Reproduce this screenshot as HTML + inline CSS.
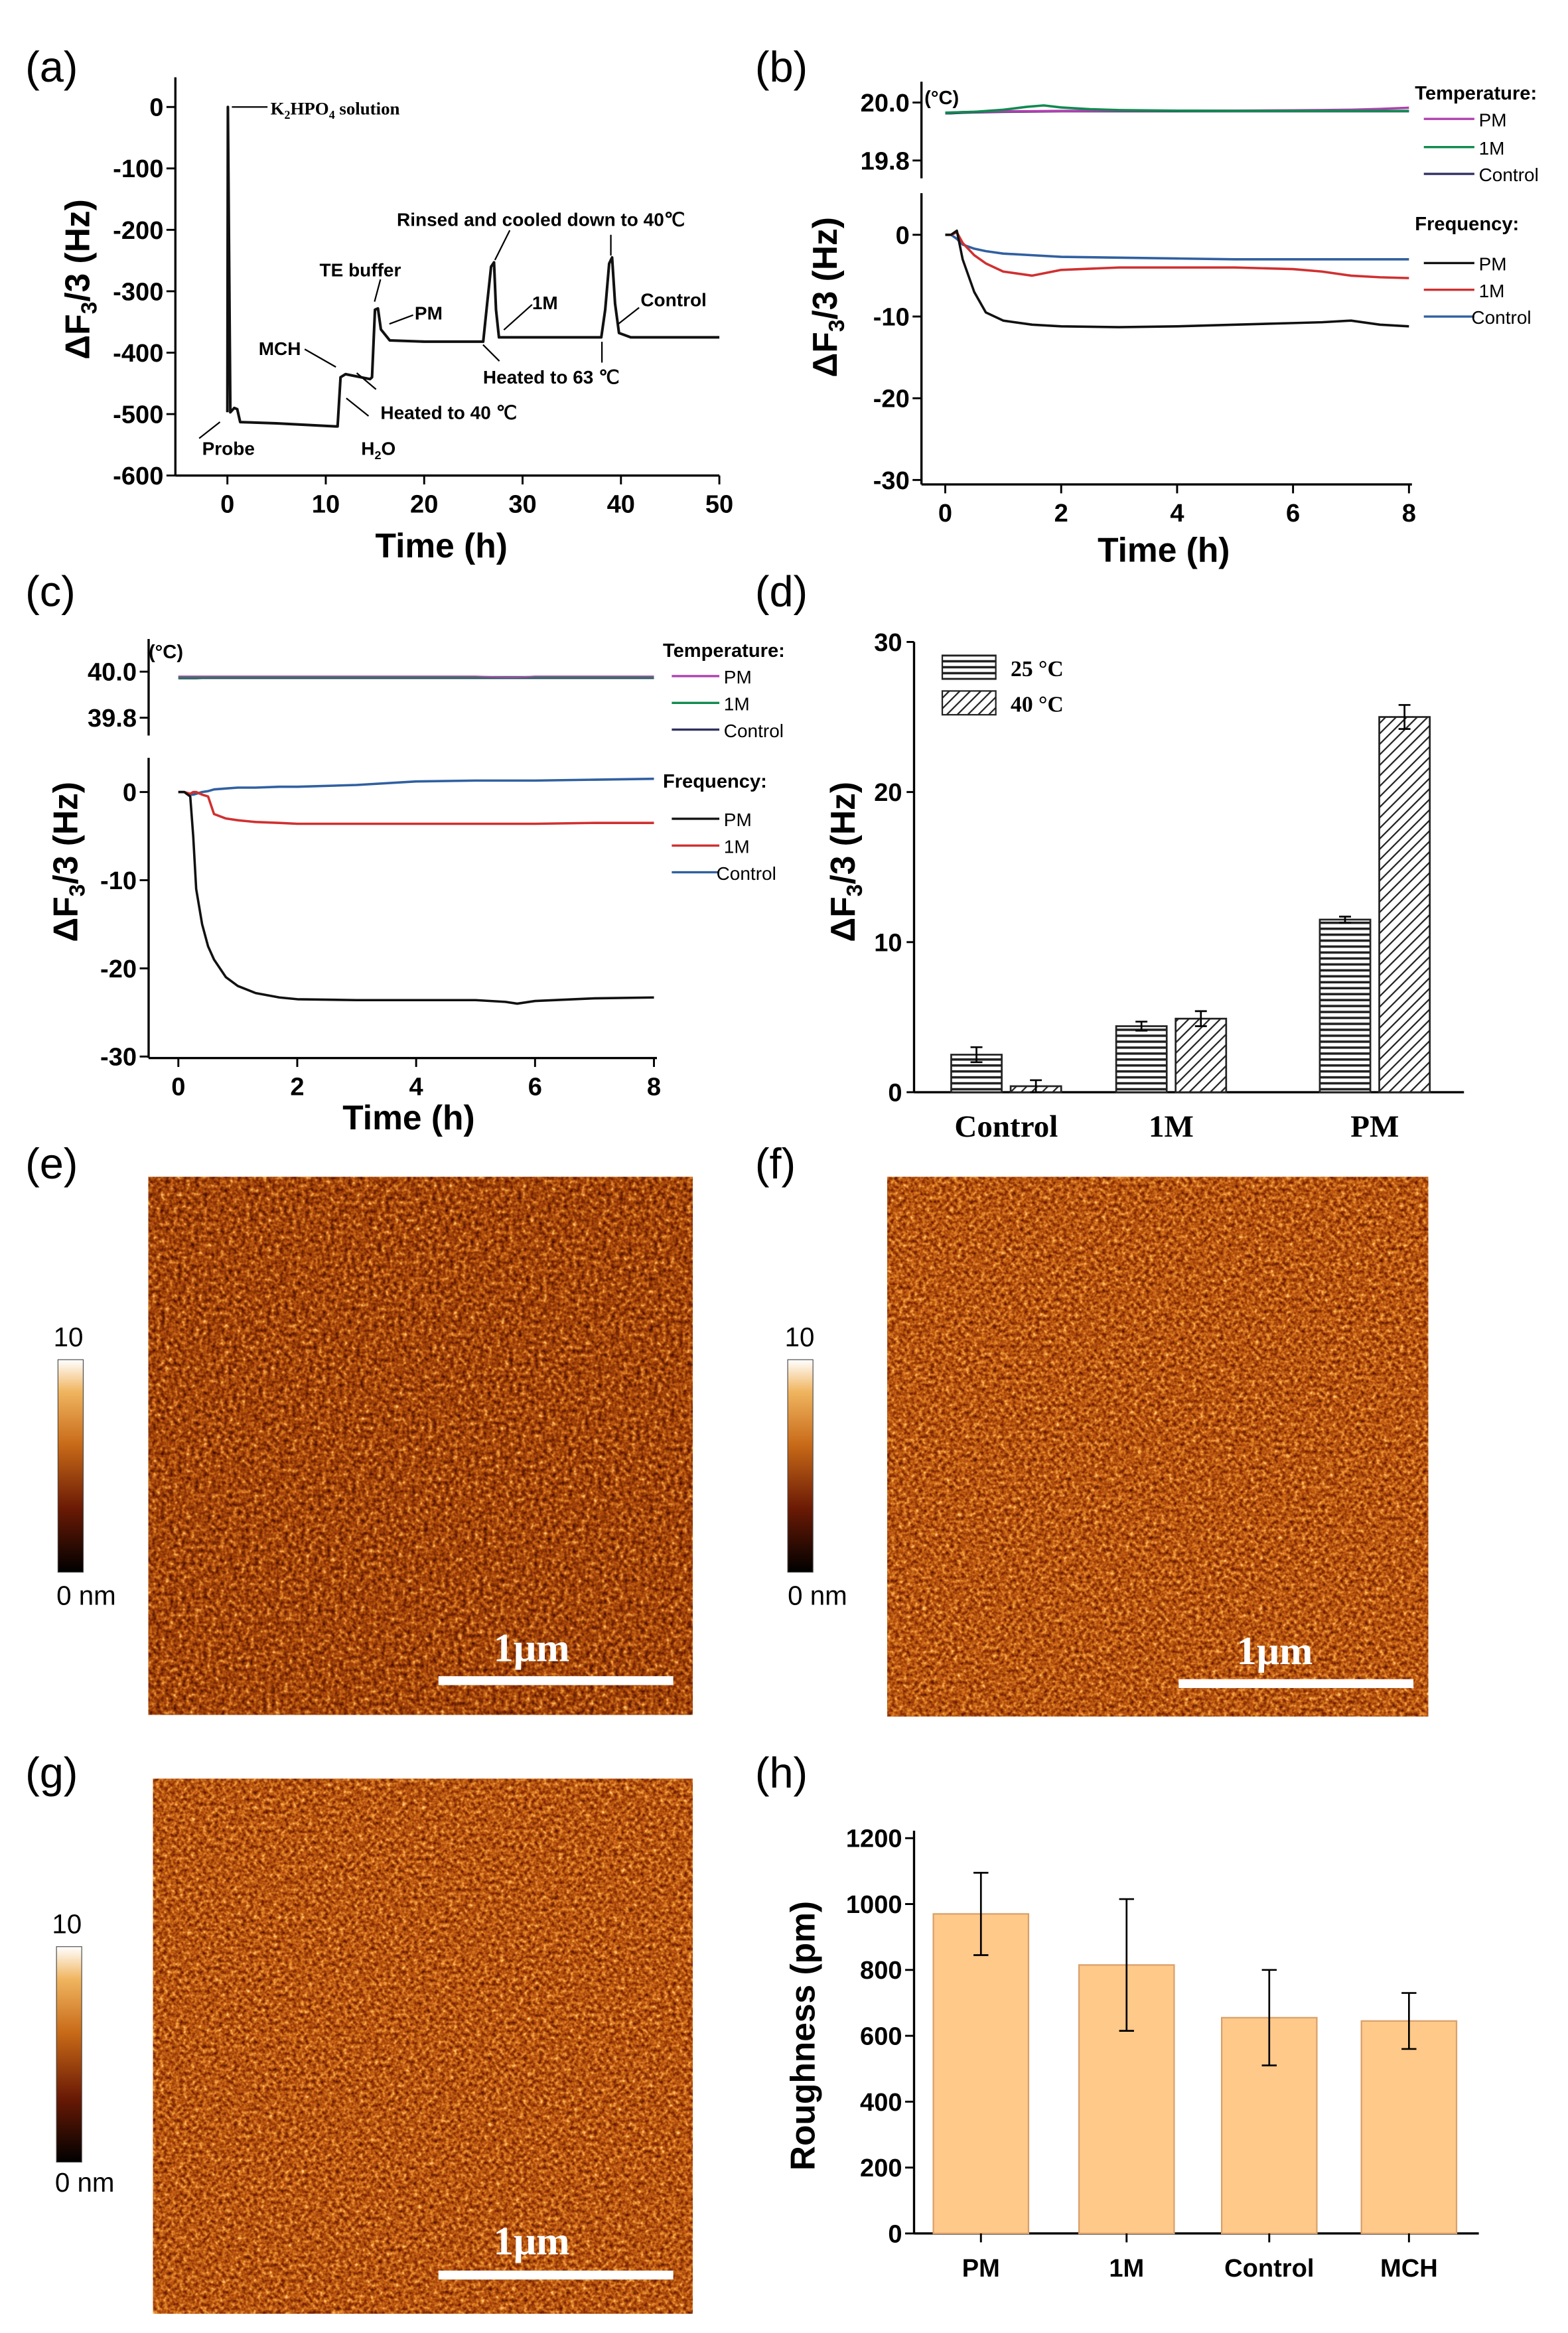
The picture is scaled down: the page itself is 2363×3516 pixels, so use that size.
<!DOCTYPE html>
<html><head><meta charset="utf-8">
<style>
html,body{margin:0;padding:0;background:#fff;}
svg{display:block;}
text{font-family:"Liberation Sans",sans-serif;}
.tk{font-size:17px;font-weight:bold;}
.ttl{font-size:23px;font-weight:bold;}
.pl{font-size:29px;}
.ann{font-size:12.5px;font-weight:bold;}
.lg{font-size:12.5px;}
.lgb{font-size:13px;font-weight:bold;}
.serif{font-family:"Liberation Serif",serif;font-weight:bold;}
</style></head>
<body>
<svg id="fig" xmlns="http://www.w3.org/2000/svg" width="2363" height="3516" viewBox="0 0 1055 1570" preserveAspectRatio="none">
<defs>
<pattern id="hatchH" width="6" height="4" patternUnits="userSpaceOnUse"><rect width="6" height="4" fill="#fff"/><line x1="0" y1="1" x2="6" y2="1" stroke="#222" stroke-width="1.6"/></pattern>
<pattern id="hatchD" width="5" height="5" patternUnits="userSpaceOnUse" patternTransform="rotate(45)"><rect width="5" height="5" fill="#fff"/><line x1="0" y1="0" x2="0" y2="5" stroke="#222" stroke-width="2"/></pattern>
<linearGradient id="cbar" x1="0" y1="1" x2="0" y2="0">
<stop offset="0" stop-color="#000"/><stop offset="0.3" stop-color="#6b1a05"/><stop offset="0.6" stop-color="#c86a18"/><stop offset="0.85" stop-color="#f0b560"/><stop offset="1" stop-color="#fff"/></linearGradient>
<filter id="afm1" x="0" y="0" width="1" height="1" color-interpolation-filters="sRGB">
<feTurbulence type="fractalNoise" baseFrequency="0.35" numOctaves="2" seed="3"/>
<feColorMatrix type="matrix" values="1 0 0 0 0 1 0 0 0 0 1 0 0 0 0 0 0 0 0 1"/>
<feComponentTransfer><feFuncR type="table" tableValues="0.15 0.3 0.48 0.64 0.8 0.97 1"/><feFuncG type="table" tableValues="0.02 0.07 0.16 0.27 0.42 0.7 0.95"/><feFuncB type="table" tableValues="0 0 0.01 0.04 0.1 0.35 0.8"/></feComponentTransfer>
</filter>
<filter id="afm2" x="0" y="0" width="1" height="1" color-interpolation-filters="sRGB">
<feTurbulence type="fractalNoise" baseFrequency="0.38" numOctaves="2" seed="7"/>
<feColorMatrix type="matrix" values="1 0 0 0 0 1 0 0 0 0 1 0 0 0 0 0 0 0 0 1"/>
<feComponentTransfer><feFuncR type="table" tableValues="0.2 0.36 0.55 0.72 0.87 1 1"/><feFuncG type="table" tableValues="0.04 0.1 0.2 0.33 0.5 0.75 0.95"/><feFuncB type="table" tableValues="0 0 0.02 0.06 0.15 0.4 0.8"/></feComponentTransfer>
</filter>
</defs>

<!-- panel labels -->
<text class="pl" x="17" y="55">(a)</text>
<text class="pl" x="508" y="55">(b)</text>
<text class="pl" x="17" y="408">(c)</text>
<text class="pl" x="508" y="408">(d)</text>
<text class="pl" x="17" y="793">(e)</text>
<text class="pl" x="508" y="793">(f)</text>
<text class="pl" x="17" y="1203">(g)</text>
<text class="pl" x="508" y="1203">(h)</text>

<g id="pa"></g>
<g id="pb"></g>
<g id="pc"></g>
<g id="pd"></g>
<g id="ph"></g>

<!-- panel a annotations -->
<g stroke="#000" stroke-width="1" fill="none">
<line x1="156" y1="72" x2="180" y2="72"/>
<line x1="134" y1="295" x2="148" y2="284"/>
<line x1="233" y1="268" x2="248" y2="280"/>
<line x1="205" y1="235" x2="226" y2="247"/>
<line x1="253" y1="262" x2="240" y2="251"/>
<line x1="256" y1="188" x2="252" y2="203"/>
<line x1="278" y1="212" x2="262" y2="218"/>
<line x1="343" y1="155" x2="333" y2="175"/>
<line x1="358" y1="205" x2="339" y2="222"/>
<line x1="336" y1="243" x2="325" y2="232"/>
<line x1="411" y1="158" x2="411" y2="172"/>
<line x1="405" y1="244" x2="405" y2="230"/>
<line x1="430" y1="207" x2="416" y2="218"/>
</g>
<g>
<text class="serif" x="182" y="77" font-size="12">K<tspan font-size="8" dy="3">2</tspan><tspan dy="-3">HPO</tspan><tspan font-size="8" dy="3">4</tspan><tspan dy="-3"> solution</tspan></text>
<text class="ann" x="136" y="306">Probe</text>
<text class="ann" x="243" y="306">H<tspan font-size="8" dy="3">2</tspan><tspan dy="-3">O</tspan></text>
<text class="ann" x="174" y="239">MCH</text>
<text class="ann" x="256" y="282">Heated to 40 ℃</text>
<text class="ann" x="215" y="186">TE buffer</text>
<text class="ann" x="279" y="215">PM</text>
<text class="ann" x="267" y="152">Rinsed and cooled down to 40℃</text>
<text class="ann" x="358" y="208">1M</text>
<text class="ann" x="325" y="258">Heated to 63 ℃</text>
<text class="ann" x="431" y="206">Control</text>
</g>

<!-- panel b legend -->
<g>
<text class="lgb" x="952" y="67">Temperature:</text>
<line x1="958" y1="80" x2="992" y2="80" stroke="#b040b0" stroke-width="1.5"/><text class="lg" x="995" y="85">PM</text>
<line x1="958" y1="99" x2="992" y2="99" stroke="#108a50" stroke-width="1.5"/><text class="lg" x="995" y="104">1M</text>
<line x1="958" y1="117" x2="992" y2="117" stroke="#303060" stroke-width="1.5"/><text class="lg" x="995" y="122">Control</text>
<text class="lgb" x="952" y="155">Frequency:</text>
<line x1="958" y1="177" x2="992" y2="177" stroke="#111" stroke-width="1.5"/><text class="lg" x="995" y="182">PM</text>
<line x1="958" y1="195" x2="992" y2="195" stroke="#d03030" stroke-width="1.5"/><text class="lg" x="995" y="200">1M</text>
<line x1="958" y1="213" x2="992" y2="213" stroke="#3060a0" stroke-width="1.5"/><text class="lg" x="990" y="218">Control</text>
</g>
<text class="lgb" x="622" y="70">(°C)</text>

<!-- panel c legend -->
<g>
<text class="lgb" x="446" y="442">Temperature:</text>
<line x1="452" y1="455" x2="484" y2="455" stroke="#b040b0" stroke-width="1.5"/><text class="lg" x="487" y="460">PM</text>
<line x1="452" y1="473" x2="484" y2="473" stroke="#108a50" stroke-width="1.5"/><text class="lg" x="487" y="478">1M</text>
<line x1="452" y1="491" x2="484" y2="491" stroke="#303060" stroke-width="1.5"/><text class="lg" x="487" y="496">Control</text>
<text class="lgb" x="446" y="530">Frequency:</text>
<line x1="452" y1="551" x2="484" y2="551" stroke="#111" stroke-width="1.5"/><text class="lg" x="487" y="556">PM</text>
<line x1="452" y1="569" x2="484" y2="569" stroke="#d03030" stroke-width="1.5"/><text class="lg" x="487" y="574">1M</text>
<line x1="452" y1="587" x2="484" y2="587" stroke="#3060a0" stroke-width="1.5"/><text class="lg" x="482" y="592">Control</text>
</g>
<text class="lgb" x="100" y="443">(°C)</text>

<!-- panel d legend -->
<g>
<rect x="634" y="441" width="36" height="16" fill="url(#hatchH)" stroke="#222"/>
<text class="serif" x="680" y="455" font-size="15">25 °C</text>
<rect x="634" y="465" width="36" height="16" fill="url(#hatchD)" stroke="#222"/>
<text class="serif" x="680" y="479" font-size="15">40 °C</text>
</g>

<!-- AFM images -->
<g>
<rect x="100" y="792" width="366" height="362" fill="#a0400f"/>
<rect x="100" y="792" width="366" height="362" filter="url(#afm1)"/>
<rect x="295" y="1128" width="158" height="6" fill="#fff"/>
<text class="serif" x="332" y="1118" font-size="27" fill="#fff">1μm</text>
</g>
<g>
<rect x="597" y="792" width="364" height="363" fill="#b5541a"/>
<rect x="597" y="792" width="364" height="363" filter="url(#afm2)"/>
<rect x="793" y="1130" width="158" height="6" fill="#fff"/>
<text class="serif" x="832" y="1120" font-size="27" fill="#fff">1μm</text>
</g>
<g>
<rect x="103" y="1197" width="363" height="360" fill="#b8571c"/>
<rect x="103" y="1197" width="363" height="360" filter="url(#afm2)"/>
<rect x="295" y="1528" width="158" height="6" fill="#fff"/>
<text class="serif" x="332" y="1517" font-size="27" fill="#fff">1μm</text>
</g>
<!-- colorbars -->
<g>
<rect x="39" y="915" width="17" height="143" fill="url(#cbar)" stroke="#444" stroke-width="0.5"/>
<text x="36" y="906" font-size="18">10</text><text x="38" y="1080" font-size="18">0 nm</text>
</g>
<g>
<rect x="530" y="915" width="17" height="143" fill="url(#cbar)" stroke="#444" stroke-width="0.5"/>
<text x="528" y="906" font-size="18">10</text><text x="530" y="1080" font-size="18">0 nm</text>
</g>
<g>
<rect x="38" y="1310" width="17" height="145" fill="url(#cbar)" stroke="#444" stroke-width="0.5"/>
<text x="35" y="1301" font-size="18">10</text><text x="37" y="1475" font-size="18">0 nm</text>
</g>
</svg>
<script>
const NS='http://www.w3.org/2000/svg';
// ---------- data ----------
// panel a
const aTime=[0,0,0.05,0.3,0.7,1,1.3,5,11,11.2,11.5,12,14.5,14.7,15,15.3,15.6,16.5,20,26,26.4,26.8,27.1,27.3,27.6,30,38,38.4,38.8,39.1,39.4,39.8,41,50];
const aFreq=[-497,-497,0,-497,-490,-492,-513,-515,-520,-520,-440,-435,-443,-440,-330,-328,-362,-380,-382,-382,-320,-260,-253,-330,-375,-375,-375,-330,-255,-245,-320,-368,-375,-375];
const aXTicks=[0,10,20,30,40,50];
const aYTicks=[0,-100,-200,-300,-400,-500,-600];
// panel b
const bTime=[0,0.1,0.2,0.3,0.5,0.7,1,1.5,2,3,4,5,6,6.5,7,7.5,8];
const bTempPM=[19.965,19.965,19.966,19.967,19.968,19.969,19.97,19.97,19.971,19.972,19.972,19.972,19.973,19.974,19.975,19.978,19.982];
const bTime1M=[0,0.5,1,1.4,1.7,2,2.5,3,4,5,6,7,8];
const bTemp1M=[19.965,19.968,19.975,19.985,19.99,19.983,19.977,19.974,19.972,19.971,19.971,19.971,19.971];
const bTempCtl=[19.963,19.963,19.964,19.965,19.966,19.967,19.968,19.969,19.97,19.97,19.97,19.97,19.97,19.97,19.97,19.97,19.97];
const bFreqPM=[0,0,0.5,-3,-7,-9.5,-10.5,-11,-11.2,-11.3,-11.2,-11,-10.8,-10.7,-10.5,-11,-11.2];
const bFreqM1=[0,0,0.3,-1,-2.5,-3.5,-4.5,-5,-4.3,-4,-4,-4,-4.2,-4.5,-5,-5.2,-5.3];
const bFreqCtl=[0,0,-0.5,-1.2,-1.7,-2,-2.3,-2.5,-2.7,-2.8,-2.9,-3,-3,-3,-3,-3,-3];
const bXTicks=[0,2,4,6,8];
const bFreqTicks=[0,-10,-20,-30];
const bTempTicks=[20.0,19.8];
// panel c
const cTime=[0,0.1,0.2,0.25,0.3,0.4,0.5,0.6,0.8,1,1.3,1.7,2,3,4,5,5.5,5.7,6,7,8];
const cFreqPM=[0,0,-0.5,-5,-11,-15,-17.5,-19,-21,-22,-22.8,-23.3,-23.5,-23.6,-23.6,-23.6,-23.8,-24,-23.7,-23.4,-23.3];
const cFreqM1=[0,0,-0.2,0,0,-0.3,-0.5,-2.5,-3,-3.2,-3.4,-3.5,-3.6,-3.6,-3.6,-3.6,-3.6,-3.6,-3.6,-3.5,-3.5];
const cFreqCtl=[0,0,-0.3,-0.3,-0.2,0,0.1,0.3,0.4,0.5,0.5,0.6,0.6,0.8,1.2,1.3,1.3,1.3,1.3,1.4,1.5];
const cTempPM=[39.98,39.98,39.98,39.98,39.98,39.98,39.98,39.98,39.98,39.98,39.98,39.98,39.98,39.98,39.98,39.98,39.975,39.975,39.98,39.98,39.98];
const cTempM1=[39.975,39.975,39.975,39.975,39.975,39.976,39.976,39.976,39.976,39.976,39.976,39.976,39.976,39.976,39.976,39.976,39.976,39.976,39.976,39.976,39.976];
const cTempCtl=[39.972,39.972,39.972,39.972,39.972,39.973,39.973,39.973,39.973,39.973,39.973,39.973,39.973,39.973,39.973,39.973,39.973,39.973,39.973,39.973,39.973];
const cXTicks=[0,2,4,6,8];
const cFreqTicks=[0,-10,-20,-30];
const cTempTicks=[40.0,39.8];
// panel d
const dCats=['Control','1M','PM'];
const d25=[2.5,4.4,11.5];
const d25Err=[0.5,0.3,0.2];
const d40=[0.4,4.9,25];
const d40Err=[0.4,0.5,0.8];
const dYTicks=[0,10,20,30];
// panel h
const hCats=['PM','1M','Control','MCH'];
const hVals=[970,815,655,645];
const hErr=[125,200,145,85];
const hYTicks=[0,200,400,600,800,1000,1200];

// ---------- helpers ----------
function mk(tag,attrs,parent){const e=document.createElementNS(NS,tag);for(const k in attrs)e.setAttribute(k,attrs[k]);parent.appendChild(e);return e;}
function lin(d0,d1,p0,p1){return v=>p0+(v-d0)*(p1-p0)/(d1-d0);}
function pathOf(xs,ys,sx,sy){return xs.map((t,i)=>(i?'L':'M')+sx(t).toFixed(2)+' '+sy(ys[i]).toFixed(2)).join(' ');}
function series(g,xs,ys,sx,sy,color,name,w){
  const p=mk('path',{d:pathOf(xs,ys,sx,sy),fill:'none',stroke:color,'stroke-width':w||1.6,'stroke-linejoin':'round'},g);
  
  
}
function xTicks(g,ticks,sx,y,len,name){
  ticks.forEach(t=>{
    mk('line',{x1:sx(t),x2:sx(t),y1:y,y2:y+len,stroke:'#000','stroke-width':1.3},g);
    const tx=mk('text',{x:sx(t),y:y+25,'text-anchor':'middle',class:'tk'},g);
    tx.textContent=t;
    
    
  });
}
function yTicks(g,ticks,sy,x,len,name,fmt){
  ticks.forEach(t=>{
    mk('line',{x1:x,x2:x-len,y1:sy(t),y2:sy(t),stroke:'#000','stroke-width':1.3},g);
    const tx=mk('text',{x:x-8,y:sy(t)+6,'text-anchor':'end',class:'tk'},g);
    tx.textContent=fmt?fmt(t):t;
    
    
  });
}
function title(g,txt,x,y,rot,name,sub){
  const t=mk('text',{x:x,y:y,'text-anchor':'middle',class:'ttl',transform:rot?`rotate(-90 ${x} ${y})`:''},g);
  if(sub){t.innerHTML='ΔF<tspan font-size="15" dy="5">3</tspan><tspan dy="-5">/3 (Hz)</tspan>';}else t.textContent=txt;
  
  
}
function axLine(g,x1,y1,x2,y2,name){
  const l=mk('line',{x1,y1,x2,y2,stroke:'#000','stroke-width':1.5},g);
  
  
}

// ---------- panel a ----------
(function(){
  const g=document.getElementById('pa');
  const sx=lin(0,50,153,484), sy=lin(0,-600,72,320);
  axLine(g,118,52,118,320,'a-y-axis');
  axLine(g,118,320,484,320,'a-x-axis');
  xTicks(g,aXTicks,sx,320,6,'a-x-tick-label');
  yTicks(g,aYTicks,sy,118,6,'a-y-tick-label');
  series(g,aTime,aFreq,sx,sy,'#111','a-frequency-curve',1.8);
  title(g,'Time (h)',297,375,false,'a-x-axis-title');
  title(g,'',60,188,true,'a-y-axis-title',true);
})();

// ---------- panel b ----------
(function(){
  const g=document.getElementById('pb');
  const sx=lin(0,8,636,948), st=lin(20,19.8,69,108), sf=lin(0,-30,158,323);
  axLine(g,620,55,620,120,'b-temp-y-axis');
  axLine(g,620,130,620,326,'b-freq-y-axis');
  axLine(g,620,326,950,326,'b-x-axis');
  xTicks(g,bXTicks,sx,326,6,'b-x-tick-label');
  yTicks(g,bFreqTicks,sf,620,6,'b-freq-tick-label');
  yTicks(g,bTempTicks,st,620,6,'b-temp-tick-label',v=>v.toFixed(1));
  series(g,bTime,bTempCtl,sx,st,'#303060','b-temp-control');
  series(g,bTime,bTempPM,sx,st,'#b040b0','b-temp-pm');
  series(g,bTime1M,bTemp1M,sx,st,'#108a50','b-temp-1m');
  series(g,bTime,bFreqCtl,sx,sf,'#3060a0','b-freq-control');
  series(g,bTime,bFreqM1,sx,sf,'#d03030','b-freq-1m');
  series(g,bTime,bFreqPM,sx,sf,'#111','b-freq-pm');
  title(g,'Time (h)',783,378,false,'b-x-axis-title');
  title(g,'',563,200,true,'b-y-axis-title',true);
})();

// ---------- panel c ----------
(function(){
  const g=document.getElementById('pc');
  const sx=lin(0,8,120,440), st=lin(40,39.8,452,483), sf=lin(0,-30,533,711);
  axLine(g,100,430,100,495,'c-temp-y-axis');
  axLine(g,100,510,100,712,'c-freq-y-axis');
  axLine(g,100,712,442,712,'c-x-axis');
  xTicks(g,cXTicks,sx,712,6,'c-x-tick-label');
  yTicks(g,cFreqTicks,sf,100,6,'c-freq-tick-label');
  yTicks(g,cTempTicks,st,100,6,'c-temp-tick-label',v=>v.toFixed(1));
  series(g,cTime,cTempCtl,sx,st,'#303060','c-temp-control');
  series(g,cTime,cTempM1,sx,st,'#108a50','c-temp-1m');
  series(g,cTime,cTempPM,sx,st,'#b040b0','c-temp-pm',1);
  series(g,cTime,cFreqCtl,sx,sf,'#3060a0','c-freq-control');
  series(g,cTime,cFreqM1,sx,sf,'#d03030','c-freq-1m');
  series(g,cTime,cFreqPM,sx,sf,'#111','c-freq-pm');
  title(g,'Time (h)',275,760,false,'c-x-axis-title');
  title(g,'',52,580,true,'c-y-axis-title',true);
})();

// ---------- panel d ----------
(function(){
  const g=document.getElementById('pd');
  const sy=lin(0,30,735,432);
  const centers=[677,788,925];
  axLine(g,615,432,615,735,'d-y-axis');
  axLine(g,615,735,985,735,'d-x-axis');
  yTicks(g,dYTicks,sy,615,5,'d-y-tick-label');
  dCats.forEach((c,i)=>{
    const b1=mk('rect',{x:centers[i]-37,y:sy(d25[i]),width:34,height:sy(0)-sy(d25[i]),fill:'url(#hatchH)',stroke:'#222','stroke-width':1.2},g);
    
    
    const b2=mk('rect',{x:centers[i]+3,y:sy(d40[i]),width:34,height:sy(0)-sy(d40[i]),fill:'url(#hatchD)',stroke:'#222','stroke-width':1.2},g);
    
    
    [[centers[i]-20,d25[i],d25Err[i]],[centers[i]+20,d40[i],d40Err[i]]].forEach(([x,v,e])=>{
      const eb=mk('path',{d:`M${x} ${sy(v+e)}V${sy(v-e)}M${x-4} ${sy(v+e)}H${x+4}M${x-4} ${sy(v-e)}H${x+4}`,stroke:'#000','stroke-width':1.2,fill:'none'},g);
      
      
    });
    const t=mk('text',{x:centers[i],y:765,'text-anchor':'middle',class:'serif','font-size':21},g);
    t.textContent=c;
    
    
  });
  title(g,'',575,580,true,'d-y-axis-title',true);
})();

// ---------- panel h ----------
(function(){
  const g=document.getElementById('ph');
  const sy=lin(0,1200,1503,1237);
  const centers=[660,758,854,948];
  axLine(g,615,1232,615,1503,'h-y-axis');
  axLine(g,615,1503,995,1503,'h-x-axis');
  yTicks(g,hYTicks,sy,615,6,'h-y-tick-label');
  hCats.forEach((c,i)=>{
    const b=mk('rect',{x:centers[i]-32,y:sy(hVals[i]),width:64,height:sy(0)-sy(hVals[i]),fill:'#ffc98a',stroke:'#d9a06a','stroke-width':1},g);
    
    
    const x=centers[i],v=hVals[i],e=hErr[i];
    const eb=mk('path',{d:`M${x} ${sy(v+e)}V${sy(v-e)}M${x-5} ${sy(v+e)}H${x+5}M${x-5} ${sy(v-e)}H${x+5}`,stroke:'#000','stroke-width':1.2,fill:'none'},g);
    
    
    mk('line',{x1:x,x2:x,y1:1503,y2:1509,stroke:'#000','stroke-width':1.3},g);
    const t=mk('text',{x:x,y:1532,'text-anchor':'middle',class:'tk','font-size':19},g);
    t.textContent=c;
    
    
  });
  title(g,'Roughness (pm)',548,1370,true,'h-y-axis-title');
})();
</script>
</body></html>
